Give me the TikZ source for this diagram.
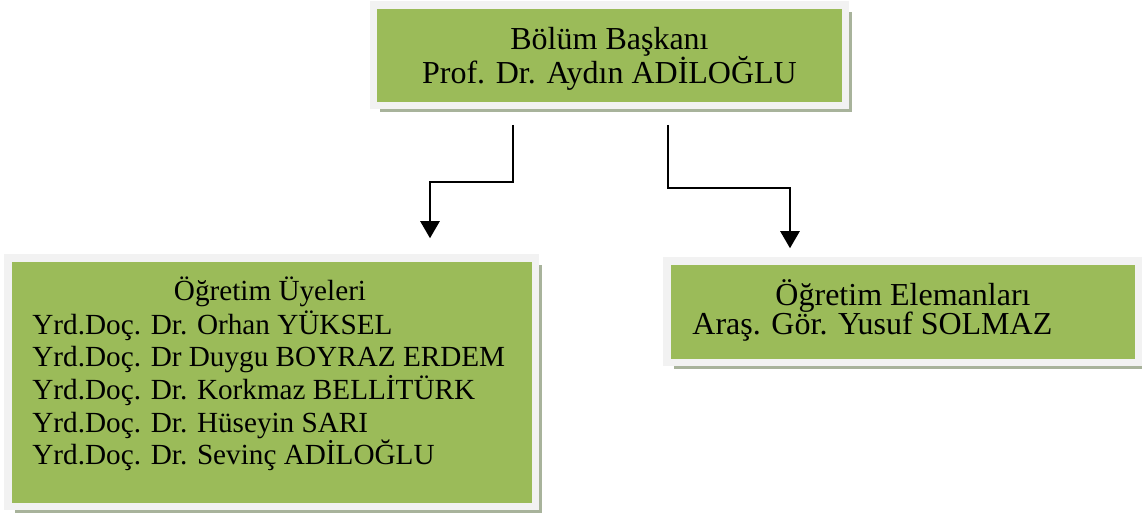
\documentclass[tikz,border=0pt]{standalone}
\usepackage{fontspec}
\setmainfont{Liberation Serif}
\usetikzlibrary{arrows.meta,shadows}
\definecolor{boxgreen}{HTML}{9BBB59}
\definecolor{framegray}{HTML}{F2F2F2}
\definecolor{shadowgray}{HTML}{A8B39B}
\tikzset{
  orgbox/.style={rectangle, fill=boxgreen, draw=framegray, line width=3.75pt, inner sep=0pt,
    drop shadow={shadow xshift=3.4pt, shadow yshift=-3.4pt, fill=shadowgray, opacity=1}},
  txt/.style={anchor=base, inner sep=0pt, font=\fontsize{16pt}{19pt}\selectfont},
  txtl/.style={txt, anchor=base west},
  txts/.style={anchor=base, inner sep=0pt, font=\fontsize{14.6pt}{17pt}\selectfont},
  txtsl/.style={txts, anchor=base west},
  conn/.style={line width=1.2pt, -{Triangle[width=9.5pt,length=8.5pt]}}
}
\begin{document}
\begin{tikzpicture}[x=0.5pt,y=-0.5pt]
\useasboundingbox (0,0) rectangle (1142,518);
% boxes
\node[orgbox, minimum width=236pt, minimum height=50.25pt] (top) at (609.5,55.25) {};
\node[orgbox, minimum width=263.75pt, minimum height=124.25pt] (left) at (271.75,382.25) {};
\node[orgbox, minimum width=235.75pt, minimum height=50.75pt] (right) at (902.75,311.75) {};
% texts
\node[txt] (t1) at (609.5,50) {Bölüm Başkanı};
\node[txt] (t2) at (609.5,84) {Prof. Dr. Aydın ADİLOĞLU};
\node[txts] (l0) at (270,301) {Öğretim Üyeleri};
\node[txtsl] (l1) at (32,335) {Yrd.Doç. Dr. Orhan YÜKSEL};
\node[txtsl] (l2) at (32,367) {Yrd.Doç. Dr Duygu BOYRAZ ERDEM};
\node[txtsl] (l3) at (32,400) {Yrd.Doç. Dr. Korkmaz BELLİTÜRK};
\node[txtsl] (l4) at (32,433) {Yrd.Doç. Dr. Hüseyin SARI};
\node[txtsl] (l5) at (32,465) {Yrd.Doç. Dr. Sevinç ADİLOĞLU};
\node[txt] (r0) at (903,306) {Öğretim Elemanları};
\node[txtl] (r1) at (692,335) {Araş. Gör. Yusuf SOLMAZ};
% connectors
\coordinate (s1) at (513,125);
\coordinate (s2) at (668,125);
\draw[conn] (s1) -- (513,182) -- (430,182) -- ([yshift=8pt]left.north -| 430,0);
\draw[conn] (s2) -- (668,188) -- (790,188) -- ([yshift=4.5pt]right.north -| 790,0);
\end{tikzpicture}
\end{document}
